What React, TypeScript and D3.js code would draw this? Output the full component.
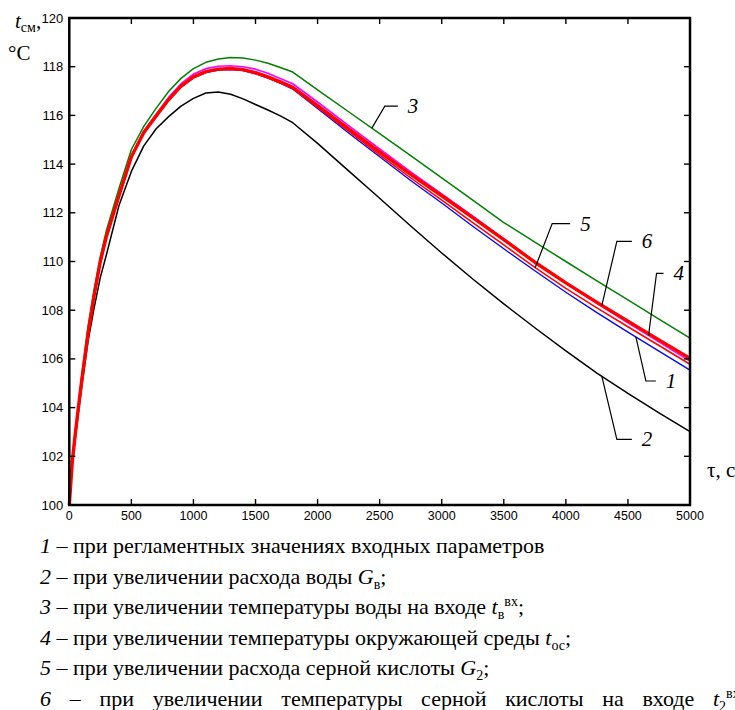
import * as d3 from "d3";
import { useEffect, useRef } from "react";

// time, s
const times = [0, 25, 50, 75, 100, 150, 200, 250, 300, 400, 500, 600, 700, 800, 900, 1000, 1100, 1200, 1300, 1400, 1500, 1600, 1700, 1800, 2000, 2250, 2500, 2750, 3000, 3250, 3500, 3750, 4000, 4250, 4500, 4750, 5000];

// 1 - regulated input parameters (blue)
const curve1 = [100, 101.83, 102.98, 104.05, 105.07, 106.97, 108.57, 109.97, 111.02, 112.67, 114.27, 115.27,
  115.95, 116.62, 117.16, 117.54, 117.76, 117.86, 117.88, 117.84, 117.71, 117.53, 117.32, 117.08,
  116.28, 115.28, 114.3, 113.33, 112.4, 111.45, 110.52, 109.62, 108.74, 107.9, 107.1, 106.32, 105.54];
// 2 - water flow up (black)
const curve2 = [100, 101.7, 102.8, 103.85, 104.85, 106.7, 108.1, 109.35, 110.3, 112.3, 113.7, 114.75,
  115.45, 115.95, 116.38, 116.7, 116.92, 116.96, 116.87, 116.68, 116.45, 116.22, 115.98, 115.7,
  114.85, 113.72, 112.6, 111.46, 110.35, 109.28, 108.26, 107.28, 106.33, 105.42, 104.58, 103.78, 103.01];
// 3 - inlet water temperature up (green)
const curve3 = [100, 101.9, 103.05, 104.15, 105.3, 107.3, 108.85, 110.2, 111.3, 113.0, 114.6, 115.55,
  116.3, 116.98, 117.52, 117.92, 118.18, 118.32, 118.38, 118.36, 118.27, 118.14, 117.97, 117.78,
  117.05, 116.15, 115.25, 114.35, 113.43, 112.52, 111.6, 110.8, 110.0, 109.2, 108.42, 107.63, 106.85];
// 4 - ambient temperature up (magenta)
const curve4 = [100, 101.85, 103.0, 104.08, 105.1, 107.0, 108.6, 110.0, 111.05, 112.72, 114.33, 115.35,
  116.05, 116.74, 117.3, 117.7, 117.92, 118.02, 118.04, 118.0, 117.9, 117.73, 117.52, 117.3,
  116.55, 115.58, 114.62, 113.68, 112.78, 111.86, 110.93, 109.98, 109.1, 108.28, 107.48, 106.7, 105.91];
// 5 - acid flow up (red)
const curve5 = [100, 101.83, 102.98, 104.05, 105.07, 106.97, 108.57, 109.97, 111.02, 112.67, 114.27, 115.27,
  115.95, 116.62, 117.17, 117.55, 117.77, 117.87, 117.9, 117.85, 117.72, 117.54, 117.33, 117.1,
  116.33, 115.35, 114.38, 113.43, 112.52, 111.6, 110.68, 109.76, 108.9, 108.1, 107.32, 106.55, 105.78];
// 6 - inlet acid temperature up (red, thick)
const curve6 = [100, 101.85, 103.0, 104.08, 105.1, 107.0, 108.6, 110.0, 111.05, 112.7, 114.3, 115.3,
  115.98, 116.65, 117.2, 117.58, 117.8, 117.9, 117.93, 117.88, 117.76, 117.58, 117.38, 117.15,
  116.4, 115.45, 114.5, 113.58, 112.7, 111.8, 110.9, 109.97, 109.12, 108.32, 107.55, 106.78, 106.02];

const xTicks = [0, 500, 1000, 1500, 2000, 2500, 3000, 3500, 4000, 4500, 5000];
const yTicks = [100, 102, 104, 106, 108, 110, 112, 114, 116, 118, 120];

// time where each numbered leader line touches its curve
const labelTimes = [4564, 4290, 2437, 4666, 3753, 4290];

const legendLines = [
  [["1", "i"], [" – при регламентных значениях входных параметров", ""]],
  [["2", "i"], [" – при увеличении расхода воды ", ""], ["G", "i"], ["в", "sub"], [";", ""]],
  [["3", "i"], [" – при увеличении температуры воды на входе ", ""], ["t", "i"], ["в", "sub"], ["вх", "sup"], [";", ""]],
  [["4", "i"], [" – при увеличении температуры окружающей среды ", ""], ["t", "i"], ["ос", "sub"], [";", ""]],
  [["5", "i"], [" – при увеличении расхода серной кислоты ", ""], ["G", "i"], ["2", "sub"], [";", ""]],
  [["6", "i"], [" – при увеличении температуры серной кислоты на входе ", ""], ["t", "i"], ["2", "sub"], ["вх", "sup"]],
];

export default function App() {
  const ref = useRef<SVGSVGElement>(null);

  useEffect(() => {
    const svg = d3.select(ref.current);
    svg.selectAll("*").remove();

    const root = svg.append("g");

    const left = 69.3, right = 690, top = 18, bottom = 505;

    const x = d3.scaleLinear().domain([0, 5000]).range([left, right]);
    const y = d3.scaleLinear().domain([100, 120]).range([bottom, top]);

    const sans = "'Liberation Sans', Arial, sans-serif";
    const serif = "'Liberation Serif', 'Times New Roman', serif";

    // curves
    const series = [
      { values: curve1, color: "#0000ff", width: 1.3 },
      { values: curve2, color: "#000000", width: 1.5 },
      { values: curve3, color: "#008000", width: 1.5 },
      { values: curve4, color: "#ff00ff", width: 1.6 },
      { values: curve5, color: "#ff0000", width: 1.5 },
      { values: curve6, color: "#ff0000", width: 3.4 },
    ];

    const line = d3.line<number>()
      .x((d, i) => x(times[i]))
      .y(d => y(d));

    root.append("g")
      .selectAll("path")
      .data(series)
      .join("path")
      .attr("d", d => line(d.values))
      .attr("fill", "none")
      .attr("stroke", d => d.color)
      .attr("stroke-width", d => d.width)
      .attr("stroke-linejoin", "round");

    // frame and inward ticks
    root.append("rect")
      .attr("x", left).attr("y", top)
      .attr("width", right - left).attr("height", bottom - top)
      .attr("fill", "none").attr("stroke", "#000").attr("stroke-width", 2.5);

    const tickLen = 6;
    const ticks = root.append("g").attr("stroke", "#000").attr("stroke-width", 1.4);
    xTicks.forEach(t => {
      ticks.append("line").attr("x1", x(t)).attr("x2", x(t)).attr("y1", bottom).attr("y2", bottom - tickLen);
      ticks.append("line").attr("x1", x(t)).attr("x2", x(t)).attr("y1", top).attr("y2", top + tickLen);
    });
    yTicks.forEach(v => {
      ticks.append("line").attr("x1", left).attr("x2", left + tickLen).attr("y1", y(v)).attr("y2", y(v));
      ticks.append("line").attr("x1", right).attr("x2", right - tickLen).attr("y1", y(v)).attr("y2", y(v));
    });

    root.append("g")
      .selectAll("text")
      .data(xTicks)
      .join("text")
      .attr("x", d => x(d))
      .attr("y", bottom + 15)
      .attr("text-anchor", "middle")
      .attr("font-family", sans)
      .attr("font-size", 12.5)
      .text(d => d);

    root.append("g")
      .selectAll("text")
      .data(yTicks)
      .join("text")
      .attr("x", left - 6)
      .attr("y", d => y(d) + 4.5)
      .attr("text-anchor", "end")
      .attr("font-family", sans)
      .attr("font-size", 13)
      .text(d => d);

    // axis titles
    const yt = root.append("text").attr("x", 15).attr("y", 28)
      .attr("font-family", serif).attr("font-size", 21);
    yt.append("tspan").attr("font-style", "italic").text("t");
    yt.append("tspan").attr("font-size", 14).attr("dy", 4).text("см");
    yt.append("tspan").attr("dy", -4).text(",");
    root.append("text").attr("x", 8).attr("y", 60)
      .attr("font-family", serif).attr("font-size", 21).text("°C");
    root.append("text").attr("x", 707).attr("y", 477)
      .attr("font-family", serif).attr("font-size", 21).text("τ, с");

    // numbered leaders: [dx, dy] to knee, horizontal length
    const leaders = [
      { values: curve1, knee: [10, 44], run: 10 },
      { values: curve2, knee: [15, 63], run: 15 },
      { values: curve3, knee: [13, -22], run: 13 },
      { values: curve4, knee: [8, -62], run: 7 },
      { values: curve5, knee: [17, -44], run: 18 },
      { values: curve6, knee: [15, -64], run: 15 },
    ];
    const lg = root.append("g");
    leaders.forEach((l, i) => {
      const t = labelTimes[i];
      const v = d3.scaleLinear().domain(times).range(l.values)(t);
      const x0 = x(t), y0 = y(v);
      const kx = x0 + l.knee[0], ky = y0 + l.knee[1];
      lg.append("polyline")
        .attr("points", `${x0},${y0} ${kx},${ky} ${kx + l.run},${ky}`)
        .attr("fill", "none").attr("stroke", "#000").attr("stroke-width", 1.2);
      lg.append("text")
        .attr("x", kx + l.run + 10).attr("y", ky + 7)
        .attr("font-family", serif).attr("font-style", "italic").attr("font-size", 21)
        .text(String(i + 1));
    });

    // legend text (last line is justified in the source, so its spaces are wider)
    legendLines.forEach((parts, i) => {
      const txt = root.append("text")
        .attr("x", 40).attr("y", 553 + i * 30.5)
        .attr("font-family", serif).attr("font-size", 22)
        .attr("word-spacing", i === legendLines.length - 1 ? 13.2 : 0);
      let shift = 0;
      parts.forEach(([s, kind]) => {
        const target = kind === "sub" ? 5 : kind === "sup" ? -8 : 0;
        const sp = txt.append("tspan").attr("dy", target - shift).text(s);
        shift = target;
        if (kind === "i") sp.attr("font-style", "italic");
        if (kind === "sub" || kind === "sup") sp.attr("font-size", 14);
      });
    });
  }, []);

  return (
    <svg ref={ref} width={735} height={710}
      style={{ position: "fixed", top: 0, left: 0, display: "block", background: "#fff" }}></svg>
  );
}
